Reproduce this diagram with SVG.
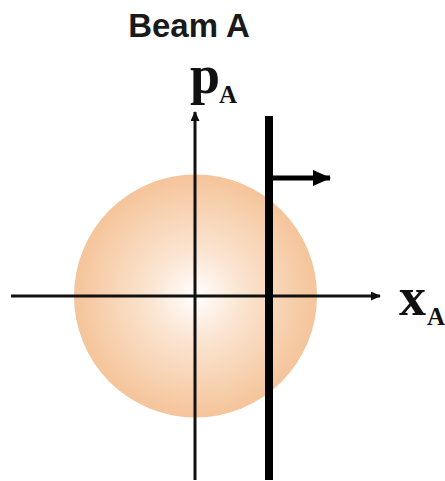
<svg xmlns="http://www.w3.org/2000/svg" width="445" height="481" viewBox="0 0 445 481">
<defs>
<radialGradient id="g" cx="0.5" cy="0.5" r="0.5">
<stop offset="0" stop-color="#ffffff"/>
<stop offset="0.35" stop-color="#fbe6d3"/>
<stop offset="1" stop-color="#f5c49a"/>
</radialGradient>
<marker id="ah" markerWidth="10" markerHeight="9" refX="9" refY="4.5" orient="auto" markerUnits="userSpaceOnUse">
<path d="M0,0 L10,4.5 L0,9 Z" fill="#111"/>
</marker>
<marker id="ah2" markerWidth="18" markerHeight="16" refX="17" refY="8" orient="auto" markerUnits="userSpaceOnUse">
<path d="M0,0 L18,8 L0,16 Z" fill="#000"/>
</marker>
</defs>
<style>
.ax{stroke:#111;stroke-width:3;fill:none}
.t{font-family:"Liberation Serif",serif;font-weight:bold;fill:#111}
</style>
<g id="beam">
<circle cx="195.5" cy="296" r="121.5" fill="url(#g)"/>
</g>
<g id="connectors">
<line class="ax" x1="11" y1="296" x2="380" y2="296" marker-end="url(#ah)"/>
<line class="ax" x1="195" y1="480" x2="195" y2="112" marker-end="url(#ah)"/>
<line x1="269" y1="116" x2="269" y2="480" stroke="#000" stroke-width="8"/>
<line x1="269" y1="178" x2="330" y2="178" stroke="#000" stroke-width="5" marker-end="url(#ah2)"/>
</g>
<g id="title">
<text x="189" y="37" font-family="Liberation Sans, Arial, sans-serif" font-weight="bold" font-size="33" text-anchor="middle" fill="#1a1a1a">Beam A</text>
</g>
<g id="label-p">
<text class="t" x="190" y="93" font-size="54">p</text>
<text class="t" x="219" y="103" font-size="25">A</text>
</g>
<g id="label-x">
<text class="t" x="399" y="315" font-size="54">x</text>
<text class="t" x="427" y="325" font-size="25">A</text>
</g>
</svg>
